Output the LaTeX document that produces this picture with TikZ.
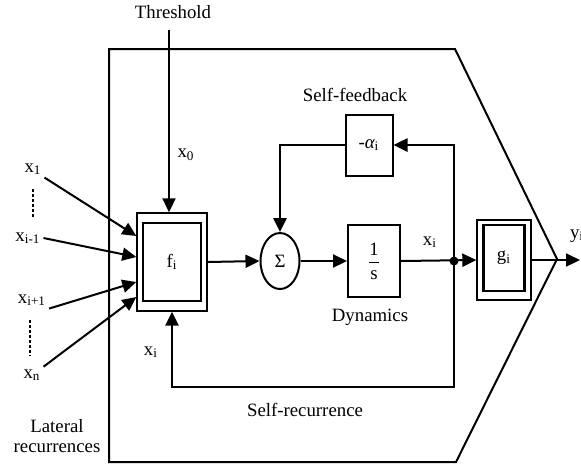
\documentclass[tikz,border=0pt]{standalone}
\usepackage{fontspec}
\setmainfont{Liberation Serif}
\usetikzlibrary{arrows.meta,calc,shapes.geometric}

\newcommand{\xsub}[1]{x\textsubscript{#1}}

\begin{document}
\begin{tikzpicture}[->,>={Triangle[length=7pt,width=6.5pt]},x=0.5pt,y=-0.5pt,
                    line width=1pt,font=\fontsize{9.4}{11}\selectfont]

  \tikzstyle{block}=[rectangle,draw,inner sep=0pt]
  \tikzstyle{thinbox}=[block,line width=0.7pt]
  \tikzstyle{thickbox}=[block,line width=1.2pt]
  \tikzstyle{lbl}=[inner sep=1pt]

  \useasboundingbox (0,0) rectangle (581,468);

  % neuron outline
  \draw[-] (109,49) -- (455,49) -- (557,259) -- (456,462) -- (109,462) -- cycle;

  \node[thinbox,minimum width=35pt,minimum height=49pt]   (FOUT) at (172,262) {};
  \node[thickbox,minimum width=29pt,minimum height=39pt]  (FIN)  at (172,262) {f\textsubscript{i}};
  \node[ellipse,draw,inner sep=0pt,minimum width=19.5pt,minimum height=28pt] (SUM) at (280,261) {Σ};
  \node[block,minimum width=26pt,minimum height=36pt]     (INT)  at (374,261) {$\displaystyle\frac{\mbox{1}}{\mbox{s}}$};
  \node[block,minimum width=23.5pt,minimum height=30.5pt] (ALF)  at (369,145) {-{\itshape α}\textsubscript{i}};
  \node[thinbox,minimum width=27pt,minimum height=40pt]   (GOUT) at (504,260) {};
  \node[thickbox,minimum width=20.5pt,minimum height=33pt] (GIN) at (504,258) {g\textsubscript{i}};
  \node[circle,fill,inner sep=0pt,minimum size=4.5pt]     (JNC)  at (454,261) {};

  \coordinate (THR) at (169,30);
  \coordinate (YOUT) at (580,260);
  \coordinate (REC) at (454,387);

  % labels
  \node[lbl] (THRL) at (173,12)  {Threshold};
  \node[lbl] (X0)   at (186,155) {\xsub{0}};
  \node[lbl] (SFB)  at (355,95)  {Self-feedback};
  \node[lbl] (XI1)  at (430,242) {\xsub{i}};
  \node[lbl] (DYN)  at (370,317) {Dynamics};
  \node[lbl] (XI2)  at (151,352) {\xsub{i}};
  \node[lbl] (SRC)  at (305,410) {Self-recurrence};
  \node[lbl,anchor=west] (YI) at (567,236) {y\textsubscript{i}};
  \node[lbl,align=center,font=\fontsize{9.4}{10}\selectfont] (LAT) at (57,436) {Lateral\\recurrences};

  \node[lbl] (X1)  at (33,169) {\xsub{1}};
  \node[lbl] (XIM) at (28,238) {\xsub{i-1}};
  \node[lbl] (XIP) at (32,300) {\xsub{i+1}};
  \node[lbl] (XN)  at (32,375) {\xsub{n}};

  \draw[-,dash pattern=on 1.5pt off 1pt] (33,189) -- (33,218);
  \draw[-,dash pattern=on 1.5pt off 1pt] (30,320) -- (30,356);

  % lateral inputs
  \draw (X1.south east) -- ($(FOUT.west)+(0,-26)$);
  \draw (XIM.east)      -- ($(FOUT.west)+(0,-5)$);
  \draw (XIP.south east) -- ($(FOUT.west)+(0,20)$);
  \draw (XN.north east) -- ($(FOUT.west)+(0,35)$);

  % forward path
  \draw (THR) -- (THR |- FOUT.north);
  \draw (FOUT.east) -- (SUM.west);
  \draw (SUM.east)  -- (INT.west);
  \draw (INT.east)  -- (GOUT.west);
  \draw (GOUT.east) -- (YOUT);

  % feedback loops
  \draw[line width=1.3pt] (JNC.center) |- (ALF.east);
  \draw[line width=1.3pt] (ALF.west) -| (SUM.north);
  \draw[line width=1.3pt] (JNC.center) -- (REC) -| (FOUT.south);
\end{tikzpicture}
\end{document}
